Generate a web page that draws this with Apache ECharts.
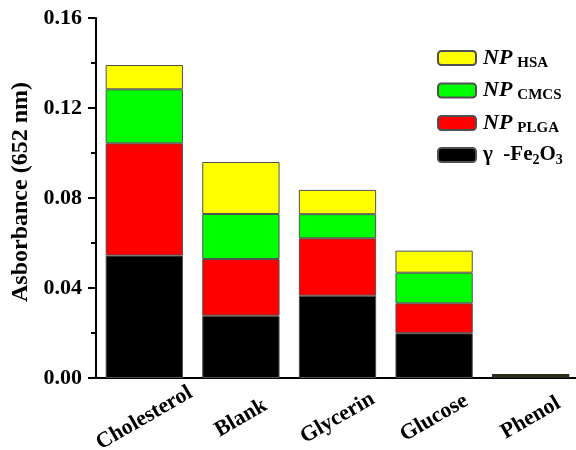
<!DOCTYPE html>
<html>
<head>
<meta charset="utf-8">
<script src="https://cdn.jsdelivr.net/npm/echarts@6/dist/echarts.min.js"></script>
<style>
html,body{margin:0;padding:0;background:#fff;}
#chart{width:576px;height:450px;}
</style>
</head>
<body>
<div id="chart"></div>
<script>
// ---- data ----
var categories = ['Cholesterol', 'Blank', 'Glycerin', 'Glucose', 'Phenol'];
var fe2o3 = [0.0544, 0.0277, 0.0366, 0.0199, 0.0010];
var plga  = [0.0499, 0.0252, 0.0255, 0.0133, 0.0002];
var cmcs  = [0.0240, 0.0200, 0.0107, 0.0136, 0.0002];
var hsa   = [0.0108, 0.0231, 0.0108, 0.0098, 0.0002];
var yTicks = [0, 0.04, 0.08, 0.12, 0.16];
var yTitle = 'Asborbance (652 nm)';

var FONT = '"Liberation Serif", "Times New Roman", serif';
var legendText = {
  'NP_HSA': '{np|NP}{sub|HSA}',
  'NP_CMCS': '{np|NP}{sub|CMCS}',
  'NP_PLGA': '{np|NP}{sub|PLGA}',
  'Fe2O3': '{t|γ  -Fe}{sub2|2}{t|O}{sub2|3}'
};

var chart = echarts.init(document.getElementById('chart'), null, {renderer: 'canvas'});
function mk(name, data, color) {
  return {
    name: name, type: 'bar', stack: 'total', barWidth: '80%',
    data: data.map(function (v, i) {
      return i === data.length - 1 ? {value: v, itemStyle: {borderColor: '#2b2a18'}} : v;
    }),
    itemStyle: {color: color, borderColor: '#505050', borderWidth: 1}
  };
}
chart.setOption({
  animation: false,
  backgroundColor: '#fff',
  grid: {left: 96, top: 18, width: 483, height: 360, containLabel: false, outerBoundsMode: 'none'},
  legend: {
    orient: 'vertical', left: 437, top: 47, padding: 0,
    itemWidth: 38, itemHeight: 14, itemGap: 9,
    data: ['NP_HSA', 'NP_CMCS', 'NP_PLGA', 'Fe2O3'],
    formatter: function (n) { return legendText[n]; },
    textStyle: {
      fontFamily: FONT, color: '#000', padding: [0,0,0,2],
      rich: {
        np: {fontFamily: FONT, fontStyle: 'italic', fontWeight: 'bold', fontSize: 22, color: '#000', lineHeight: 24},
        sub: {fontFamily: FONT, fontWeight: 'bold', fontSize: 15, color: '#000', padding: [10, 0, 0, 5]},
        t: {fontFamily: FONT, fontWeight: 'bold', fontSize: 21, color: '#000', lineHeight: 24},
        sub2: {fontFamily: FONT, fontWeight: 'bold', fontSize: 14, color: '#000', padding: [10, 0, 0, 0]}
      }
    }
  },
  xAxis: [{
    type: 'category', data: categories, position: 'bottom',
    axisLine: {lineStyle: {color: '#000', width: 2}},
    axisTick: {alignWithLabel: true, length: 7, lineStyle: {color: '#000', width: 2}},
    axisLabel: {
      rotate: 30, align: 'center', verticalAlign: 'middle', margin: 40,
      fontFamily: FONT, fontWeight: 'bold', fontSize: 22, color: '#000', interval: 0
    }
  }, {
    type: 'category', data: categories, position: 'bottom',
    axisLine: {show: false},
    axisTick: {length: 4, lineStyle: {color: '#000', width: 2}},
    axisLabel: {show: false}
  }],
  yAxis: {
    type: 'value', min: yTicks[0], max: yTicks[yTicks.length - 1], interval: 0.04,
    name: yTitle, nameLocation: 'middle', nameGap: 61,
    nameTextStyle: {fontFamily: FONT, fontWeight: 'bold', fontSize: 24, color: '#000', padding: [0, 0, 0, 12]},
    axisLine: {show: true, lineStyle: {color: '#000', width: 2}},
    axisTick: {show: true, length: 8, lineStyle: {color: '#000', width: 2}},
    minorTick: {show: true, splitNumber: 2, length: 5, lineStyle: {color: '#000', width: 2}},
    splitLine: {show: false},
    axisLabel: {
      margin: 14, fontFamily: FONT, fontWeight: 'bold', fontSize: 22, color: '#000',
      formatter: function (v) { return v.toFixed(2); }
    }
  },
  series: [
    mk('Fe2O3', fe2o3, '#000000'),
    mk('NP_PLGA', plga, '#ff0000'),
    mk('NP_CMCS', cmcs, '#00ff00'),
    mk('NP_HSA', hsa, '#ffff00')
  ]
});
</script>
</body>
</html>
